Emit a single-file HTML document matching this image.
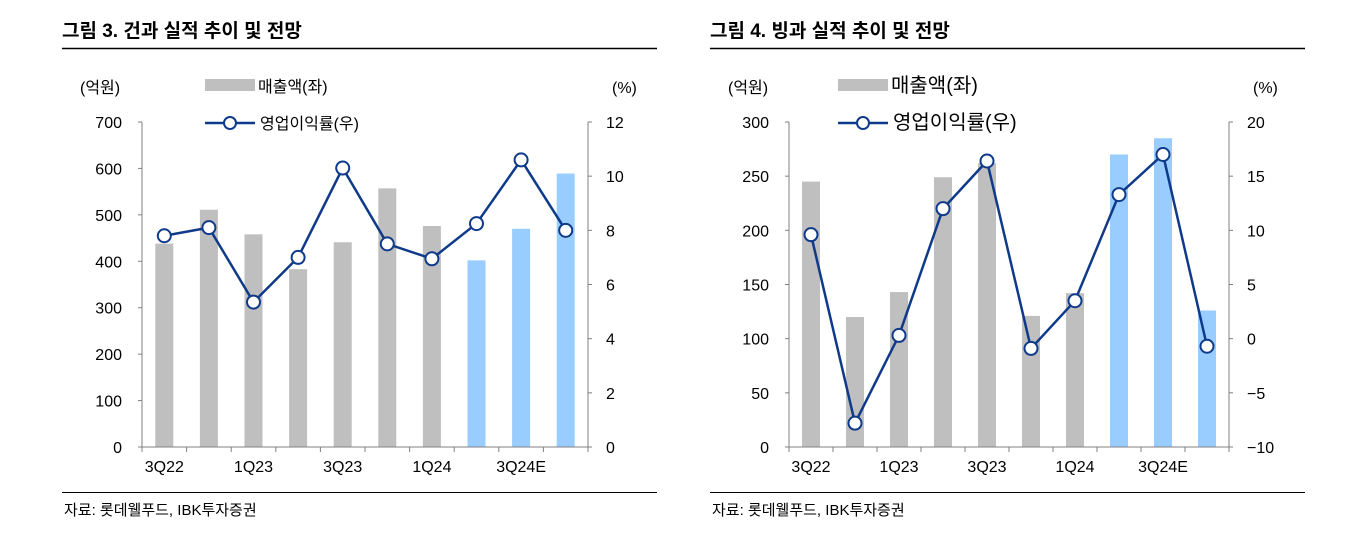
<!DOCTYPE html>
<html><head><meta charset="utf-8"><style>
body{margin:0;width:1354px;height:545px;background:#fff;overflow:hidden;font-family:"Liberation Sans","Noto Sans CJK KR",sans-serif}
svg text{font-family:"Liberation Sans","Noto Sans CJK KR",sans-serif}
</style></head><body>
<svg id="s" width="1354" height="545"></svg>
<script>
const categories=["3Q22","4Q22","1Q23","2Q23","3Q23","4Q23","1Q24","2Q24","3Q24E","4Q24E"];
const xLabels=["3Q22","","1Q23","","3Q23","","1Q24","","3Q24E",""];
const estimateFrom=7;
const sales1=[438,511,458,383,441,557,476,402,470,589];
const margin1=[7.8,8.1,5.35,7.0,10.3,7.5,6.95,8.25,10.6,8.0];
const leftTicks1=[0,100,200,300,400,500,600,700];
const rightTicks1=[0,2,4,6,8,10,12];
const sales2=[245,120,143,249,262,121,142,270,285,126];
const margin2=[9.6,-7.8,0.3,12.0,16.4,-0.9,3.5,13.3,17.0,-0.7];
const leftTicks2=[0,50,100,150,200,250,300];
const rightTicks2=[-10,-5,0,5,10,15,20];

const NS="http://www.w3.org/2000/svg";
const svg=document.getElementById('s');
function mk(t,a,p,txt){const e=document.createElementNS(NS,t);for(const k in a)e.setAttribute(k,a[k]);if(txt!==undefined)e.textContent=txt;(p||svg).appendChild(e);return e;}

function chart(o){
  const g=mk('g',{});
  
  
  const t=mk('text',{x:o.x0,y:37,'font-size':19,'font-weight':'bold',fill:'#000'},g,o.title);
  
  
  mk('line',{x1:o.x0,x2:o.x0+595,y1:48.5,y2:48.5,stroke:'#000','stroke-width':1.5},g);
  mk('line',{x1:o.x0,x2:o.x0+595,y1:492.5,y2:492.5,stroke:'#000','stroke-width':1},g);
  const src=mk('text',{x:o.x0+2,y:515,'font-size':15,fill:'#000'},g,'자료: 롯데웰푸드, IBK투자증권');
  
  
  const L=o.left,R=o.right,T=122,B=447;
  const lmin=o.lt[0],lmax=o.lt[o.lt.length-1],rmin=o.rt[0],rmax=o.rt[o.rt.length-1];
  const yl=v=>B-(v-lmin)/(lmax-lmin)*(B-T);
  const yr=v=>B-(v-rmin)/(rmax-rmin)*(B-T);
  const n=categories.length,bw=(R-L)/n;
  const xc=i=>L+bw*(i+0.5);
  // bars
  o.sales.forEach((v,i)=>{
    const r=mk('rect',{x:xc(i)-9,y:yl(v),width:18,height:B-yl(v),fill:i>=estimateFrom?'#99ccff':'#bfbfbf'},g);
    
    
  });
  // axes
  mk('line',{x1:L,x2:L,y1:T,y2:B,stroke:'#808080'},g);
  mk('line',{x1:R,x2:R,y1:T,y2:B,stroke:'#808080'},g);
  mk('line',{x1:L,x2:R,y1:B,y2:B,stroke:'#808080'},g);
  o.lt.forEach(v=>{mk('line',{x1:L-4,x2:L,y1:yl(v),y2:yl(v),stroke:'#808080'},g);
    const tx=mk('text',{x:L-20,y:yl(v)+6,'font-size':16,'text-anchor':'end',fill:'#000'},g,v);
    
    });
  o.rt.forEach(v=>{mk('line',{x1:R,x2:R+4,y1:yr(v),y2:yr(v),stroke:'#808080'},g);
    const tx=mk('text',{x:R+18,y:yr(v)+6,'font-size':16,fill:'#000'},g,v<0?'−'+Math.abs(v):v);
    
    });
  for(let i=0;i<=n;i++)mk('line',{x1:L+bw*i,x2:L+bw*i,y1:B,y2:B+5,stroke:'#808080'},g);
  xLabels.forEach((s,i)=>{if(!s)return;
    const tx=mk('text',{x:xc(i),y:472,'font-size':16,'text-anchor':'middle',fill:'#000'},g,s);
    
    });
  const a1=mk('text',{x:o.x0+18,y:93,'font-size':16,fill:'#000'},g,'(억원)');
  
  
  const a2=mk('text',{x:R+24,y:93,'font-size':16,fill:'#000'},g,'(%)');
  
  
  // line
  const pts=o.margin.map((v,i)=>xc(i)+','+yr(v)).join(' ');
  const pl=mk('polyline',{points:pts,fill:'none',stroke:'#0f3a8a','stroke-width':2.5},g);
  
  
  o.margin.forEach((v,i)=>{
    const c=mk('circle',{cx:xc(i),cy:yr(v),r:6.5,fill:'#fff',stroke:'#0f3a8a','stroke-width':2},g);
    
    
  });
  // legend
  const lg=mk('g',{},g);
  
  
  mk('rect',{x:o.lx,y:79,width:50,height:12,fill:'#bfbfbf'},lg);
  mk('text',{x:o.lx+53,y:92,'font-size':o.lf,fill:'#000'},lg,'매출액(좌)');
  mk('line',{x1:o.lx,x2:o.lx+50,y1:123,y2:123,stroke:'#0f3a8a','stroke-width':2.5},lg);
  mk('circle',{cx:o.lx+25,cy:123,r:6,fill:'#fff',stroke:'#0f3a8a','stroke-width':2},lg);
  mk('text',{x:o.lx+55,y:129,'font-size':o.lf,fill:'#000'},lg,'영업이익률(우)');
}
chart({name:'chart-3-snacks',x0:62,title:'그림 3. 건과 실적 추이 및 전망',left:142,right:588,sales:sales1,margin:margin1,lt:leftTicks1,rt:rightTicks1,lx:205,lf:16});
chart({name:'chart-4-icecream',x0:710,title:'그림 4. 빙과 실적 추이 및 전망',left:789,right:1229,sales:sales2,margin:margin2,lt:leftTicks2,rt:rightTicks2,lx:838,lf:20});
</script>
</body></html>
